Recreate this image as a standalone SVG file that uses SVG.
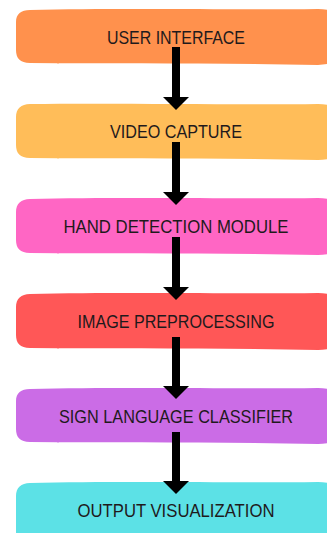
<svg xmlns="http://www.w3.org/2000/svg" width="327" height="533" viewBox="0 0 327 533">
  <style>
    .blob { stroke: none; }
    .label { font-family: "Liberation Sans", Arial, sans-serif; font-size: 17.5px; fill: #1f1a1c; text-anchor: middle; }
    .shaft { stroke: #000; stroke-width: 8; fill: none; }
  </style>
  <defs>
    <marker id="head" markerUnits="userSpaceOnUse" markerWidth="14" markerHeight="28" viewBox="0 -14 14 28" refX="0" refY="0" orient="auto">
      <path d="M0,-13 L13,0 L0,13 Z" fill="#000"/>
    </marker>
  </defs>
  <rect width="327" height="533" fill="#fff"/>

  <g id="user-interface">
    <path class="blob" fill="#FF914D" d="M30,10 C120,8 240,10 318,9 C330,9 340,12 340,20 L340,55 C340,63 330,64 318,65 C220,63 120,64 30,63 C20,63 16,58 16,50 L16,22 C16,14 21,10 30,10 Z"/>
    <text class="label" x="176" y="44" textLength="138" lengthAdjust="spacingAndGlyphs">USER INTERFACE</text>
  </g>

  <g id="video-capture">
    <path class="blob" fill="#FFBD59" d="M30,104 C120,103 240,105 318,104 C330,104 340,107 340,115 L340,151 C340,159 330,159 318,160 C220,158 120,159 30,158 C20,158 16,153 16,145 L16,117 C16,109 21,104 30,104 Z"/>
    <text class="label" x="176" y="138" textLength="132" lengthAdjust="spacingAndGlyphs">VIDEO CAPTURE</text>
  </g>

  <g id="hand-detection-module">
    <path class="blob" fill="#FF66C4" d="M30,199 C120,197 240,199 318,198 C330,198 340,201 340,209 L340,246 C340,254 330,254 318,255 C220,253 120,254 30,253 C20,253 16,248 16,240 L16,212 C16,204 21,199 30,199 Z"/>
    <text class="label" x="176" y="233" textLength="225" lengthAdjust="spacingAndGlyphs">HAND DETECTION MODULE</text>
  </g>

  <g id="image-preprocessing">
    <path class="blob" fill="#FF5757" d="M30,294 C120,292 240,294 318,293 C330,293 340,296 340,304 L340,341 C340,349 330,349 318,350 C220,348 120,349 30,348 C20,348 16,343 16,335 L16,307 C16,299 21,294 30,294 Z"/>
    <text class="label" x="176" y="328" textLength="197" lengthAdjust="spacingAndGlyphs">IMAGE PREPROCESSING</text>
  </g>

  <g id="sign-language-classifier">
    <path class="blob" fill="#CB6CE6" d="M30,389 C120,387 240,389 318,388 C330,388 340,391 340,399 L340,435 C340,443 330,443 318,444 C220,442 120,443 30,442 C20,442 16,437 16,429 L16,401 C16,393 21,389 30,389 Z"/>
    <text class="label" x="176" y="423" textLength="234" lengthAdjust="spacingAndGlyphs">SIGN LANGUAGE CLASSIFIER</text>
  </g>

  <g id="output-visualization">
    <path class="blob" fill="#5CE1E6" d="M30,483 C120,481 240,483 318,482 C330,482 340,485 340,493 L340,545 L16,545 L16,496 C16,488 21,483 30,483 Z"/>
    <text class="label" x="176" y="517" textLength="197" lengthAdjust="spacingAndGlyphs">OUTPUT VISUALIZATION</text>
  </g>

  <g id="connectors">
    <line class="shaft" x1="176" y1="47" x2="176" y2="97" marker-end="url(#head)"/>
    <line class="shaft" x1="176" y1="142" x2="176" y2="192" marker-end="url(#head)"/>
    <line class="shaft" x1="176" y1="237" x2="176" y2="287" marker-end="url(#head)"/>
    <line class="shaft" x1="176" y1="337" x2="176" y2="386" marker-end="url(#head)"/>
    <line class="shaft" x1="176" y1="432" x2="176" y2="481" marker-end="url(#head)"/>
  </g>
</svg>
